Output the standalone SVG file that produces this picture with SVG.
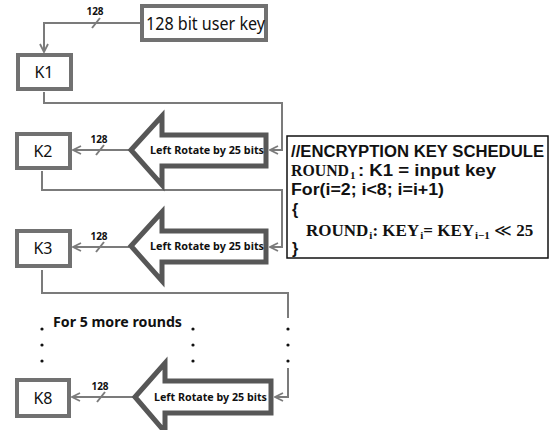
<svg xmlns="http://www.w3.org/2000/svg" width="550" height="430" viewBox="0 0 550 430">
  <style>
    .key { fill: #fff; stroke: #717171; stroke-width: 4; }
    .lbl { font-family: "Noto Sans", "Open Sans", sans-serif; font-size: 16px; fill: #111; }
    .wire { fill: none; stroke: #7b7b7b; stroke-width: 2; }
    .tick { stroke: #7b7b7b; stroke-width: 2; }
    .bus { font-family: "Noto Sans", "Open Sans", sans-serif; font-size: 10px; font-weight: bold; fill: #111; }
    .rot { fill: #fff; stroke: #575757; stroke-width: 5; stroke-linejoin: miter; }
    .rottxt { font-family: "Noto Sans", "Open Sans", sans-serif; font-size: 11px; font-weight: bold; fill: #111; }
    .dot { fill: #111; }
    .note { font-family: "Noto Sans", "Open Sans", sans-serif; font-size: 14px; font-weight: bold; fill: #111; }
    .code { font-family: "Liberation Sans", "Noto Sans", sans-serif; font-size: 16px; font-weight: bold; fill: #111; }
    .math { font-family: "Liberation Serif", "DejaVu Serif", serif; font-size: 16px; font-weight: bold; fill: #111; }
    .sub { font-size: 11px; }
  </style>
  <defs>
    <marker id="open" viewBox="0 0 10 10" refX="9" refY="5" markerWidth="5" markerHeight="5" orient="auto" markerUnits="strokeWidth">
      <path d="M1,1 L9,5 L1,9" fill="none" stroke="#7b7b7b" stroke-width="1.8"/>
    </marker>
  </defs>

  <rect width="550" height="430" fill="#fff"/>

  <!-- connectors -->
  <g id="connectors">
    <path class="wire" d="M140,23 H44 V52" marker-end="url(#open)"/>
    <line class="tick" x1="92" y1="28" x2="100" y2="18"/>
    <text class="bus" x="95" y="15" text-anchor="middle">128</text>

    <path class="wire" d="M44,92 V103 H282 V150 H270" marker-end="url(#open)"/>
    <path class="wire" d="M129,150 H73" marker-end="url(#open)"/>
    <line class="tick" x1="96" y1="155" x2="104" y2="145"/>
    <text class="bus" x="99" y="143" text-anchor="middle">128</text>

    <path class="wire" d="M42,171 V190 H282 V247 H270" marker-end="url(#open)"/>
    <path class="wire" d="M129,247 H73" marker-end="url(#open)"/>
    <line class="tick" x1="96" y1="252" x2="104" y2="242"/>
    <text class="bus" x="99" y="240" text-anchor="middle">128</text>

    <path class="wire" d="M42,270 V293 H288 V318"/>
    <path class="wire" d="M288,368 V397 H275" marker-end="url(#open)"/>
    <path class="wire" d="M133,397 H72" marker-end="url(#open)"/>
    <line class="tick" x1="97" y1="402" x2="105" y2="392"/>
    <text class="bus" x="100" y="390" text-anchor="middle">128</text>
  </g>

  <!-- continuation dots -->
  <g id="more-rounds">
    <circle class="dot" cx="42" cy="329" r="1.6"/>
    <circle class="dot" cx="42" cy="345" r="1.6"/>
    <circle class="dot" cx="42" cy="361" r="1.6"/>
    <circle class="dot" cx="193" cy="329" r="1.6"/>
    <circle class="dot" cx="193" cy="345" r="1.6"/>
    <circle class="dot" cx="193" cy="361" r="1.6"/>
    <circle class="dot" cx="288" cy="329" r="1.6"/>
    <circle class="dot" cx="288" cy="345" r="1.6"/>
    <circle class="dot" cx="288" cy="361" r="1.6"/>
    <text class="note" x="53" y="327" textLength="129" lengthAdjust="spacingAndGlyphs">For 5 more rounds</text>
  </g>

  <!-- key registers -->
  <g id="userkey">
    <rect class="key" x="142" y="6" width="124" height="34"/>
    <text class="lbl" x="146" y="30" style="font-size:18px" textLength="119" lengthAdjust="spacingAndGlyphs">128 bit user key</text>
  </g>
  <g id="k1">
    <rect class="key" x="18" y="55" width="53" height="34"/>
    <text class="lbl" x="44" y="78" text-anchor="middle">K1</text>
  </g>
  <g id="k2">
    <rect class="key" x="17" y="134" width="53" height="34"/>
    <text class="lbl" x="43" y="157" text-anchor="middle">K2</text>
  </g>
  <g id="k3">
    <rect class="key" x="17" y="231" width="53" height="35"/>
    <text class="lbl" x="43" y="254" text-anchor="middle">K3</text>
  </g>
  <g id="k8">
    <rect class="key" x="17" y="380" width="52" height="36"/>
    <text class="lbl" x="43" y="404" text-anchor="middle">K8</text>
  </g>

  <!-- rotate operators -->
  <g id="rot2">
    <polygon class="rot" points="131,150 162,116 162,135 266,135 266,166 162,166 162,185"/>
    <text class="rottxt" x="150" y="154" textLength="114" lengthAdjust="spacingAndGlyphs">Left Rotate by 25 bits</text>
  </g>
  <g id="rot3">
    <polygon class="rot" points="131,246 162,212 162,231 266,231 266,262 162,262 162,281"/>
    <text class="rottxt" x="150" y="250" textLength="114" lengthAdjust="spacingAndGlyphs">Left Rotate by 25 bits</text>
  </g>
  <g id="rot8">
    <polygon class="rot" points="135,397 165,363 165,381 271,381 271,413 165,413 165,432"/>
    <text class="rottxt" x="154" y="401" textLength="113" lengthAdjust="spacingAndGlyphs">Left Rotate by 25 bits</text>
  </g>

  <!-- schedule pseudocode -->
  <g id="schedule">
    <rect x="287" y="136" width="261" height="122" fill="#fff" stroke="#111" stroke-width="1.5"/>
    <text class="code" x="291" y="157" textLength="253" lengthAdjust="spacingAndGlyphs">//ENCRYPTION KEY SCHEDULE</text>
    <text class="math" x="291" y="176" textLength="58" lengthAdjust="spacingAndGlyphs">ROUND</text>
    <text class="math sub" x="350" y="179">1</text>
    <text class="code" x="358" y="176" textLength="138" lengthAdjust="spacingAndGlyphs">: K1 = input key</text>
    <text class="code" x="291" y="195" textLength="153" lengthAdjust="spacingAndGlyphs">For(i=2; i&lt;8; i=i+1)</text>
    <text class="code" x="292" y="215">{</text>
    <text class="math" x="306" y="236" style="font-size:17px">ROUND<tspan class="sub" dx="1" dy="3">i</tspan><tspan dy="-3">: KEY</tspan><tspan class="sub" dx="1" dy="3">i</tspan><tspan dy="-3">= KEY</tspan><tspan class="sub" dx="1" dy="3">i−1</tspan><tspan dy="-3" font-weight="normal"> ≪ </tspan><tspan>25</tspan></text>
    <text class="code" x="292" y="254">}</text>
  </g>
</svg>
